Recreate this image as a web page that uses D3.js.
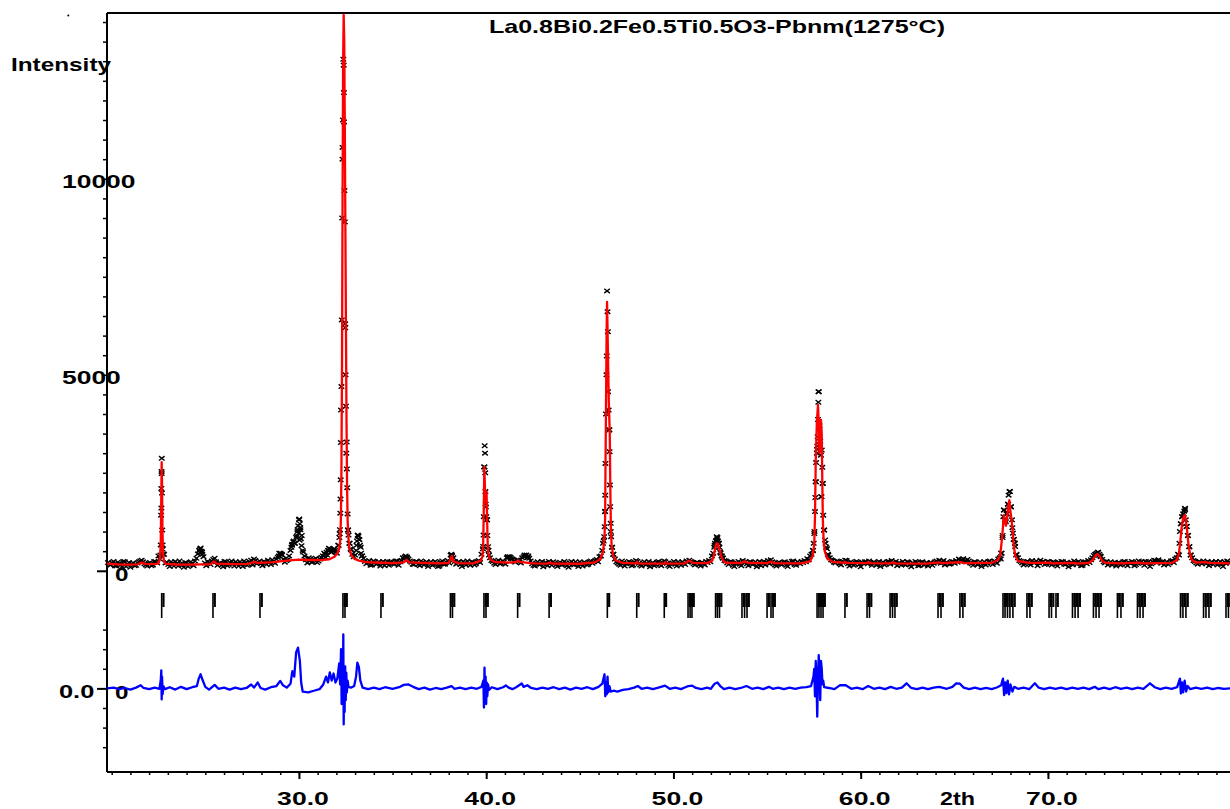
<!DOCTYPE html>
<html>
<head>
<meta charset="utf-8">
<script src="https://cdn.jsdelivr.net/npm/d3@7"></script>
<style>
  body { margin: 0; background: #fff; }
  svg { display: block; }
  text { font-family: "Liberation Sans", Arial, sans-serif; font-weight: bold; fill: #000; }
</style>
</head>
<body>
<svg id="chart" width="1230" height="809"></svg>
<script>
// ---- Powder pattern: La0.8Bi0.2Fe0.5Ti0.5O3, Pbnm refinement ----

const titleText = "La0.8Bi0.2Fe0.5Ti0.5O3-Pbnm(1275°C)";
const xTickLabels = ["30.0", "40.0", "50.0", "60.0", "70.0"];
const xTickValues = [30, 40, 50, 60, 70];
const yTickLabels = ["10000", "5000"];
const yTickValues = [10000, 5000];
const diffOffset = -3000;   // difference curve is drawn shifted by this many counts

// Observed counts on the 0.075° step grid (one row = 1.5°)
const obsStart = 19.80, obsStep = 0.075;
const obsCounts = [
  210,170,150,200,240,130,120,220,190,150,100,240,230,110,160,210,90,180,200,130,
  140,200,230,250,270,230,180,150,120,190,210,130,150,240,230,200,380,300,2100,550,
  420,200,220,160,110,230,190,120,240,180,120,250,170,140,90,210,200,110,150,230,
  180,130,250,320,430,520,580,470,360,200,130,240,210,160,250,290,320,230,140,190,
  200,150,100,240,230,130,160,210,250,180,120,230,190,120,230,170,110,250,210,140,
  170,230,270,150,300,260,180,220,250,190,130,240,220,160,270,210,160,280,240,190,
  300,340,450,420,400,300,220,260,280,380,520,650,740,700,850,1050,1300,1100,900,480,
  380,280,200,330,300,220,230,290,320,210,250,300,340,380,450,340,400,520,560,470,
  520,550,480,450,650,950,4100,10500,12200,6200,3285,1040,700,540,420,360,400,650,900,790,
  600,380,320,240,180,210,260,140,150,250,230,170,190,230,120,200,240,130,200,240,
  140,230,220,180,170,250,250,140,230,260,330,300,380,350,300,250,220,170,160,230,
  240,170,130,250,210,150,180,230,110,200,230,140,160,240,200,110,120,220,250,170,
  170,220,260,200,400,390,330,240,170,210,230,160,110,240,200,150,250,180,140,230,
  220,150,180,240,260,210,420,560,2650,1700,1300,520,330,260,240,190,160,230,270,180,
  190,250,230,170,330,350,360,310,300,250,220,270,280,230,200,330,360,380,400,340,
  320,250,180,140,120,200,230,160,170,240,100,190,210,130,240,200,140,230,190,150,
  110,190,220,150,160,240,200,130,90,200,240,170,150,230,180,110,230,160,120,220,
  200,150,170,230,250,190,230,260,290,230,360,380,520,760,1510,5000,6100,3600,1000,600,
  420,300,230,200,170,140,250,210,120,180,190,240,210,130,150,220,260,240,190,150,
  120,200,230,150,180,240,100,180,210,130,160,220,240,170,130,210,250,230,190,140,
  110,180,200,240,170,120,230,190,140,230,190,160,250,230,270,240,220,180,150,210,
  210,160,120,220,180,150,240,210,260,230,380,450,650,760,850,700,480,380,320,260,
  250,200,160,230,230,140,110,190,200,240,170,130,260,210,240,180,130,230,220,160,
  180,230,100,170,240,130,200,240,150,210,260,180,280,230,190,150,120,200,220,170,
  160,220,230,140,110,200,190,240,250,160,140,230,200,180,240,210,260,230,310,280,
  380,420,520,950,2270,3100,4570,3300,1890,2230,1040,700,560,400,330,280,260,220,200,250,
  240,180,150,220,230,270,260,180,120,230,200,140,170,240,220,160,100,210,190,230,
  230,180,250,200,140,220,210,150,160,240,110,200,220,150,180,230,240,170,260,210,
  200,240,130,200,190,150,240,170,150,230,220,160,100,200,180,240,210,130,140,220,
  230,150,170,210,120,190,210,140,190,230,250,210,270,190,230,260,150,220,200,170,
  180,240,230,190,260,220,300,270,280,310,250,230,290,250,200,180,140,230,220,160,
  170,230,110,180,230,150,190,240,250,200,160,250,230,190,300,330,450,850,1550,1280,
  1450,1700,2020,1630,1100,800,620,420,330,260,240,200,150,180,230,240,180,150,260,210,
  210,250,130,200,270,220,240,160,180,240,230,190,150,230,210,170,120,220,190,240,
  230,170,160,210,100,190,220,150,250,210,170,240,200,130,140,220,230,180,260,210,
  280,330,390,420,450,470,420,360,290,230,200,240,150,190,230,150,180,220,120,200,
  210,150,170,230,240,180,130,210,190,240,220,130,160,200,250,220,230,190,140,240,
  200,240,110,180,230,270,260,210,280,230,190,240,150,200,230,160,200,250,260,210,
  300,330,420,700,1200,1380,1450,1560,1130,900,615,400,330,260,240,200,170,240,220,180,
  250,210,180,240,130,200,230,160,200,240,150,190,240,170,110,230,190,250,220,200
];

// Extra observed points recorded across the Bragg peaks and impurity humps [2θ, counts]
const obsPeakPoints = [
  [22.60,400],[22.62,660],[22.64,1420],[22.655,1600],[22.665,2530],[22.67,2480],[22.675,2870],[22.685,1985],[22.70,1040],[22.72,660],[22.74,420],
  [24.68,520],[24.72,560],[24.80,500],[24.84,420],
  [28.92,380],[29.02,450],[29.08,420],
  [29.60,600],[29.64,680],[29.72,760],[29.78,700],[29.88,880],[29.92,1000],[29.96,1150],[29.99,960],[30.02,1320],[30.04,780],[30.05,1200],[30.08,1050],[30.10,820],[30.14,640],[30.20,520],
  [31.40,420],[31.48,470],[31.55,520],[31.60,575],[31.70,540],[31.75,480],[31.88,560],[31.92,520],
  [32.12,650],[32.16,850],[32.19,1050],[32.21,1470],[32.22,1830],[32.23,2320],[32.24,3270],[32.27,4700],[32.29,6400],[32.31,9000],[32.33,10800],[32.35,11500],[32.37,13050],[32.39,12900],[32.41,11450],[32.43,9700],[32.45,8900],[32.47,6300],[32.49,5000],[32.51,4200],[32.53,3000],[32.56,2600],[32.58,2120],[32.60,1450],[32.62,1040],[32.65,910],[32.70,700],[32.76,560],
  [33.06,520],[33.10,760],[33.14,910],[33.18,880],[33.22,800],[33.26,650],[33.32,450],[33.36,380],
  [35.65,350],[35.78,330],
  [38.14,420],[38.18,380],
  [39.84,620],[39.86,910],[39.87,1380],[39.90,2650],[39.92,3190],[39.94,3000],[39.95,2500],[39.96,2020],[39.98,1630],[40.01,1380],[40.03,1300],[40.06,900],[40.10,615],[40.15,400],
  [41.15,360],[41.30,340],[42.05,400],[42.25,380],
  [46.24,700],[46.30,870],[46.33,1125],[46.35,1510],[46.36,1930],[46.37,2740],[46.40,4000],[46.44,5480],[46.455,7140],[46.48,6610],[46.51,4570],[46.54,4100],[46.57,3590],[46.59,3040],[46.61,2190],[46.62,1635],[46.65,1210],[46.67,870],[46.72,600],[46.78,420],
  [52.18,600],[52.22,700],[52.27,760],[52.31,870],[52.34,820],[52.38,760],[52.42,700],[52.46,600],[52.52,450],[52.58,380],[52.62,330],
  [57.45,520],[57.49,700],[57.53,1000],[57.56,1510],[57.58,1870],[57.60,2270],[57.62,2760],[57.66,3000],[57.68,3180],[57.70,3420],[57.72,3860],[57.74,4300],[57.76,4570],[57.80,3700],[57.84,3300],[57.88,2950],[57.90,1890],[57.92,3080],[57.95,2640],[57.97,2230],[58.00,1420],[58.04,1040],[58.10,785],[58.16,600],[58.25,420],
  [67.48,300],[67.53,450],[67.58,900],[67.62,1380],[67.66,1550],[67.70,1300],[67.75,1250],[67.80,1450],[67.86,1700],[67.90,1930],[67.97,2020],[68.02,1635],[68.08,1300],[68.13,960],[68.18,800],[68.24,700],[68.30,400],
  [72.55,420],[72.68,470],[72.80,380],
  [77.00,400],[77.05,1000],[77.10,1200],[77.16,1380],[77.22,1450],[77.28,1520],[77.32,1594],[77.36,1300],[77.42,1130],[77.48,900],[77.55,615],[77.62,400]
];

// Calculated profile [2θ, counts]
const calcProfile = [
  [19.75,185],[20.3,165],[20.9,155],[21.4,165],[21.6,210],[21.8,175],[22.3,170],[22.50,190],[22.58,320],[22.62,700],[22.65,1900],[22.67,2770],[22.69,2200],[22.71,1100],[22.74,450],[22.80,230],[22.9,175],
  [23.5,160],[24.3,155],[24.8,165],[25.3,170],[25.45,240],[25.6,185],[26.5,170],[27.3,175],[27.6,230],[27.8,200],[28.5,215],[29.0,240],[29.5,265],[30.0,285],[30.6,275],[31.2,270],[31.6,290],[31.9,360],
  [32.05,440],[32.15,560],[32.20,750],[32.24,1300],[32.27,2600],[32.30,5200],[32.33,9500],[32.36,13000],[32.39,14180],[32.42,13500],[32.45,11300],[32.48,8800],[32.51,6300],[32.54,3900],[32.57,2200],[32.60,1300],[32.64,850],[32.70,560],[32.80,400],[32.95,310],
  [33.2,260],[33.6,220],[34.4,205],[35.0,195],[35.6,215],[35.75,280],[35.9,215],[36.6,200],[37.5,190],[38.0,200],[38.12,330],[38.17,380],[38.25,240],[38.5,195],[39.3,190],
  [39.72,260],[39.80,360],[39.84,700],[39.87,1500],[39.90,2650],[39.93,2200],[39.96,1750],[39.99,1850],[40.02,2020],[40.05,1300],[40.08,700],[40.12,430],[40.2,290],[40.5,220],
  [41.2,210],[41.62,230],[41.7,270],[41.78,225],[42.5,190],[43.3,185],[43.4,210],[43.5,185],[45.0,180],[45.8,215],
  [46.1,300],[46.25,520],[46.32,900],[46.35,1300],[46.37,2500],[46.40,4300],[46.43,6000],[46.455,6860],[46.48,6200],[46.51,5300],[46.55,4300],[46.60,3500],[46.63,2100],[46.66,1100],[46.70,640],[46.78,400],[46.9,270],
  [47.3,200],[48.0,190],[48.05,230],[48.12,190],[49.5,185],[49.55,220],[49.62,185],[50.6,190],[50.85,260],[51.05,200],[51.8,195],
  [52.05,250],[52.15,370],[52.22,560],[52.30,700],[52.38,690],[52.45,560],[52.55,380],[52.65,260],[52.8,205],
  [53.6,195],[53.8,240],[54.0,200],[55.0,195],[55.2,235],[55.4,195],[56.8,190],[57.3,240],
  [57.45,400],[57.52,700],[57.56,1400],[57.60,2800],[57.66,3800],[57.72,4230],[57.76,3760],[57.80,3000],[57.84,3300],[57.88,3850],[57.92,3500],[57.95,2300],[57.98,1300],[58.02,800],[58.08,500],[58.2,320],[58.5,230],
  [59.1,200],[59.16,230],[59.25,200],[60.35,195],[60.42,225],[60.5,195],[61.6,190],[61.7,220],[61.85,190],[63.5,185],[64.2,215],[64.35,195],[65.35,220],[65.5,195],[67.0,200],
  [67.35,280],[67.45,400],[67.52,700],[67.58,1000],[67.64,1420],[67.70,1250],[67.76,1150],[67.82,1350],[67.88,1650],[67.94,1800],[68.00,1500],[68.06,1300],[68.12,1000],[68.18,620],[68.26,380],[68.40,250],
  [69.0,200],[70.1,210],[70.2,190],[71.4,200],[71.5,185],[72.2,200],[72.4,280],[72.55,400],[72.65,430],[72.75,380],[72.9,250],[73.1,200],[73.8,190],[74.9,210],[75.1,190],[76.6,200],
  [76.9,280],[77.00,450],[77.08,800],[77.14,1100],[77.20,1300],[77.26,1400],[77.32,1420],[77.38,1250],[77.44,1000],[77.50,700],[77.58,450],[77.68,280],[77.9,210],[78.45,220],[78.6,200],[79.75,190]
];

// Observed minus calculated [2θ, counts]
const diffProfile = [
  [19.75,0],[20.1,20],[20.4,-20],[20.7,10],[21.0,-30],[21.3,20],[21.55,80],[21.7,10],[22.0,-20],[22.3,20],[22.55,-10],[22.62,200],[22.65,460],[22.67,-280],[22.69,300],[22.72,-150],[22.76,60],[22.85,-20],
  [23.1,30],[23.4,-30],[23.7,40],[24.0,-20],[24.3,30],[24.55,60],[24.65,250],[24.75,360],[24.85,220],[25.0,40],[25.2,-30],[25.5,90],[25.7,-10],[26.0,20],[26.3,-30],[26.6,20],[26.9,-20],[27.2,10],[27.45,100],[27.6,20],[27.8,150],[27.95,10],
  [28.2,-30],[28.5,30],[28.8,60],[29.0,190],[29.15,80],[29.35,20],[29.55,120],[29.65,440],[29.75,300],[29.85,920],[29.95,1040],[30.05,700],[30.12,150],[30.2,-80],[30.5,-100],[30.8,-60],[31.1,-20],
  [31.3,100],[31.45,300],[31.55,150],[31.65,410],[31.75,200],[31.85,380],[31.95,150],[32.05,250],[32.15,640],[32.2,100],[32.25,1000],[32.28,-400],[32.31,700],[32.34,-300],[32.37,1380],[32.39,-920],[32.41,300],[32.44,-600],[32.47,560],[32.50,-300],[32.53,400],[32.56,-100],[32.60,200],[32.65,30],[32.8,20],
  [32.95,60],[33.05,300],[33.12,655],[33.2,550],[33.28,200],[33.4,20],[33.7,-20],[34.0,20],[34.3,-20],[34.6,30],[35.0,-10],[35.4,40],[35.6,90],[35.85,100],[36.1,40],[36.4,-20],[36.7,20],[37.0,-30],[37.3,10],[37.6,-20],[37.9,20],[38.15,60],[38.3,-10],[38.6,20],[38.9,-20],[39.2,20],[39.5,-10],
  [39.75,40],[39.85,200],[39.88,-490],[39.91,530],[39.94,-200],[39.97,300],[40.0,-400],[40.03,150],[40.06,-200],[40.1,100],[40.15,-40],[40.3,30],[40.6,-20],[40.9,30],[41.05,75],[41.2,20],[41.4,-20],[41.6,30],[41.9,125],[42.0,40],[42.2,80],[42.4,10],
  [42.7,-20],[43.0,20],[43.3,-10],[43.6,30],[43.9,-20],[44.2,20],[44.5,-30],[44.8,20],[45.1,-10],[45.4,30],[45.7,-20],[46.0,40],[46.2,120],[46.32,360],[46.36,-200],[46.40,150],[46.44,-150],[46.48,300],[46.52,-100],[46.58,60],[46.65,-80],[46.8,-60],[47.0,-80],[47.3,-40],[47.6,-20],
  [47.9,20],[48.1,60],[48.3,-10],[48.6,20],[48.9,-20],[49.2,20],[49.55,70],[49.8,-10],[50.1,20],[50.4,-20],[50.8,60],[51.0,70],[51.2,10],[51.5,-20],[51.8,20],[52.0,-10],[52.2,120],[52.35,150],[52.5,60],[52.7,-20],[53.0,20],[53.3,-20],[53.6,10],[53.9,60],[54.2,-10],[54.5,20],[54.8,-20],
  [55.1,40],[55.3,-10],[55.6,20],[55.9,-20],[56.2,20],[56.5,-10],[56.8,20],[57.1,30],[57.35,60],[57.48,300],[57.52,500],[57.56,-200],[57.60,700],[57.64,200],[57.68,-720],[57.72,300],[57.76,850],[57.80,400],[57.84,-300],[57.88,700],[57.92,500],[57.96,100],[58.0,200],[58.05,30],
  [58.3,10],[58.6,-20],[58.9,85],[59.2,80],[59.5,-10],[59.8,20],[60.1,-20],[60.4,60],[60.7,-10],[61.0,20],[61.3,-20],[61.6,40],[61.9,-10],[62.2,20],[62.45,130],[62.7,10],[63.0,-20],[63.3,20],[63.6,-20],[63.9,20],[64.2,40],[64.6,-10],[64.9,40],[65.1,130],[65.3,120],[65.5,20],[65.8,-20],
  [66.1,20],[66.4,-20],[66.7,10],[67.0,-20],[67.3,30],[67.5,80],[67.6,250],[67.66,-170],[67.72,150],[67.78,-120],[67.85,200],[67.92,-150],[68.0,100],[68.1,-80],[68.2,40],[68.4,-10],[68.7,20],[69.0,-20],[69.3,130],[69.5,20],[69.8,-20],
  [70.1,20],[70.4,-10],[70.7,20],[71.0,-20],[71.3,20],[71.6,-10],[71.9,20],[72.2,-20],[72.5,40],[72.7,-20],[73.0,20],[73.3,-20],[73.6,30],[73.9,-10],[74.2,20],[74.5,-20],[74.8,20],[75.1,-10],[75.45,130],[75.7,30],[76.0,-20],[76.3,20],[76.6,-10],
  [76.9,30],[77.05,250],[77.1,-130],[77.16,150],[77.22,-100],[77.3,200],[77.38,-80],[77.46,60],[77.6,-20],[77.9,20],[78.2,-10],[78.5,20],[78.8,-20],[79.1,10],[79.4,-10],[79.75,0]
];

// Reflection positions (2θ) for the Pbnm phase
const reflections = [
  22.67, 25.41, 27.92, 32.35, 32.46, 34.38, 38.09, 38.20, 39.88, 39.99, 41.68, 43.36,
  46.47, 48.04, 49.51, 50.78, 50.89, 50.99, 52.25, 52.35, 52.46, 53.66, 53.80, 53.93,
  55.00, 55.21, 55.32, 57.67, 57.77, 57.88, 57.99, 59.16, 60.34, 60.47, 61.57, 61.70, 61.83,
  64.13, 64.29, 65.30, 65.46, 67.60, 67.71, 67.84, 67.97, 68.13, 68.88, 69.04,
  70.06, 70.19, 70.43, 71.31, 71.45, 71.61, 72.43, 72.57, 72.73, 73.71, 73.90,
  74.78, 74.92, 75.08, 77.08, 77.21, 77.37, 78.31, 78.44, 78.60, 79.51, 79.64
];

// ---- scales ----
const svg = d3.select("#chart");
const x = d3.scaleLinear().domain([19.75, 79.75]).range([107, 1230.5]);
const y = d3.scaleLinear().domain([-5133, 14230]).range([772, 13]);

// ---- frame ----
svg.append("line").attr("stroke", "#000").attr("stroke-width", 2)
  .attr("x1", x.range()[0]).attr("x2", 1232).attr("y1", y.range()[1]).attr("y2", y.range()[1]);

// ---- axes ----
const minorX = d3.range(20, 80, 1);
svg.append("g").attr("transform", `translate(0,${y.range()[0]})`)
  .call(d3.axisBottom(x).tickValues(minorX).tickSize(3).tickSizeOuter(0).tickFormat(""))
  .call(g => g.select(".domain").attr("stroke-width", 2).attr("d", `M${x.range()[0]},0H1232`))
  .call(g => g.selectAll(".tick line").attr("stroke-width", 1.5));
svg.append("g").attr("transform", `translate(0,${y.range()[0]})`)
  .call(d3.axisBottom(x).tickValues(xTickValues).tickSize(7).tickFormat(""))
  .call(g => g.select(".domain").remove())
  .call(g => g.selectAll(".tick line").attr("stroke-width", 2));

const minorYMain = d3.range(500, 14001, 500);
const minorYDiff = [-1500, -1000, -500, 500, 1000, 1500].map(v => v + diffOffset);
svg.append("g").attr("transform", `translate(${x.range()[0]},0)`)
  .call(d3.axisLeft(y).tickValues(minorYMain.concat(minorYDiff)).tickSize(4).tickSizeOuter(0).tickFormat(""))
  .call(g => g.select(".domain").attr("stroke-width", 2).attr("d", `M0,${y.range()[1]}V${y.range()[0]}`))
  .call(g => g.selectAll(".tick line").attr("stroke-width", 1.5));
svg.append("g").attr("transform", `translate(${x.range()[0]},0)`)
  .call(d3.axisLeft(y).tickValues([0, diffOffset]).tickSize(10).tickFormat(""))
  .call(g => g.select(".domain").remove())
  .call(g => g.selectAll(".tick line").attr("stroke-width", 2));

// ---- text helper (wide bold lettering) ----
function label(px, py, str, len, size) {
  return svg.append("text")
    .attr("x", px).attr("y", py)
    .attr("font-size", size)
    .attr("textLength", len)
    .attr("lengthAdjust", "spacingAndGlyphs")
    .text(str);
}

// x tick labels
xTickLabels.forEach((t, i) => label(x(xTickValues[i]) + 4 - 25.8, 805, t, 51.7, 17.5));
label(940, 805, "2th", 35, 17.5);

// y tick labels
yTickLabels.forEach((t, i) => label(62, y(yTickValues[i]) + 9.5, t, t.length * 14.7, 17.5));
label(59, y(diffOffset) + 10, "0.0", 35.3, 17.5);
label(115, y(0) + 10.5, "0", 13.5, 17.5);
label(115, y(diffOffset) + 10.5, "0", 13.5, 17.5);
label(11, 70.5, "Intensity", 100, 19);
label(489, 33, titleText, 456, 18.5);
svg.append("circle").attr("cx", 68.3).attr("cy", 15.5).attr("r", 1).attr("fill", "#000");

// ---- reflection ticks ----
const refl = svg.append("g").attr("stroke", "#000");
refl.selectAll("line.full").data(reflections).join("line")
  .attr("class", "full")
  .attr("x1", d => x(d)).attr("x2", d => x(d))
  .attr("y1", 593).attr("y2", 618).attr("stroke-width", 1.6);
refl.selectAll("line.half").data(reflections).join("line")
  .attr("class", "half")
  .attr("x1", d => x(d) + 1.8).attr("x2", d => x(d) + 1.8)
  .attr("y1", 593).attr("y2", 607).attr("stroke-width", 2.2);

// ---- observed points ----
const obsPoints = obsCounts.map((c, i) => [obsStart + i * obsStep, c]).concat(obsPeakPoints);
svg.append("g").attr("stroke", "#000").attr("stroke-width", 1.4).attr("fill", "none")
  .selectAll("path").data(obsPoints).join("path")
  .attr("d", d => {
    const px = x(d[0]), py = y(d[1]);
    return `M${px - 2.8},${py - 2.2}L${px + 2.8},${py + 2.2}M${px - 2.8},${py + 2.2}L${px + 2.8},${py - 2.2}`;
  });

// ---- calculated curve ----
svg.append("path").datum(calcProfile)
  .attr("fill", "none").attr("stroke", "#ff0000").attr("stroke-width", 2.3)
  .attr("stroke-linejoin", "round")
  .attr("d", d3.line().x(d => x(d[0])).y(d => y(d[1])));

// ---- difference curve ----
svg.append("path").datum(diffProfile)
  .attr("fill", "none").attr("stroke", "#0000ff").attr("stroke-width", 2.3)
  .attr("stroke-linejoin", "round")
  .attr("d", d3.line().x(d => x(d[0])).y(d => y(d[1] + diffOffset)));
</script>
</body>
</html>
